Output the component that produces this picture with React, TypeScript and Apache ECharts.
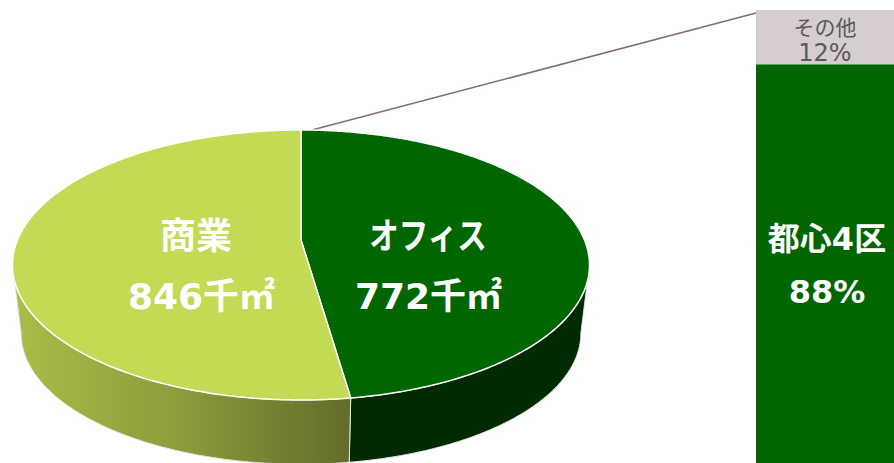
import React, { useEffect, useRef } from "react";
import * as echarts from "echarts";

const pieNames = ["オフィス", "商業"];
const pieValues = [772, 846];
const pieUnit = "千㎡";
const barNames = ["都心4区", "その他"];
const barValues = [88, 12];

const FONT = '"DejaVu Sans", "Noto Sans CJK JP", sans-serif';
const DARK = "#006600";
const LIGHT = "#C2DA54";
const OTHER = "#D6CECE";

const APEX_X = 301;
const APEX_Y = 240;
const PERSP = 50 / 270;
const A = 110 * (1 + PERSP);
const B = 283.5;
const SIDE_SCALE = 0.97;
const SIDE_DROP = 69;
const TANGENT = Math.PI - Math.acos(PERSP);

function rim(theta: number, depth: boolean): number[] {
  const s = Math.sin(theta);
  const c = Math.cos(theta);
  const d = 1 + PERSP * c;
  const scale = depth ? SIDE_SCALE : 1;
  return [
    APEX_X + (scale * B * s) / d,
    APEX_Y + (depth ? SIDE_DROP : 0) - (scale * A * c) / d,
  ];
}

function arc(t0: number, t1: number, depth: boolean): number[][] {
  const out: number[][] = [];
  const n = Math.max(2, Math.ceil(Math.abs(t1 - t0) / 0.01));
  for (let i = 0; i <= n; i++) out.push(rim(t0 + ((t1 - t0) * i) / n, depth));
  return out;
}

const labelPos = [
  { x1: 428, x2: 428.5, y1: 236, y2: 296, nameScale: 0.82 },
  { x1: 196, x2: 201.5, y1: 236, y2: 296, nameScale: 1 },
];

export default function App() {
  const ref = useRef<HTMLDivElement>(null);
  useEffect(() => {
    const chart = echarts.init(ref.current!, undefined, { renderer: "svg" });
    const total = pieValues.reduce((a, b) => a + b, 0);
    const sideMin = TANGENT;
    const sideMax = 2 * Math.PI - TANGENT;
    const sideFill = [
      "#002A00",
      new echarts.graphic.LinearGradient(0, 0, 1, 0, [
        { offset: 0, color: "#ABBC48" },
        { offset: 0.5, color: "#8B9C3C" },
        { offset: 1, color: "#636B2A" },
      ]),
    ];
    chart.setOption({
      animation: false,
      grid: { left: 756, right: 0, top: 10, bottom: 0 },
      xAxis: { type: "category", show: false, data: ["share"] },
      yAxis: { type: "value", show: false, min: 0, max: 100 },
      graphic: [
        {
          type: "line",
          shape: { x1: 312, y1: 130, x2: 756, y2: 13 },
          style: { stroke: "#7F6F6F", lineWidth: 1.5 },
        },
      ],
      series: [
        {
          type: "custom",
          coordinateSystem: "none",
          silent: true,
          clip: false,
          data: pieValues.map((v, i) => ({ name: pieNames[i], value: [v] })),
          renderItem: (params: any, api: any) => {
            const i = params.dataIndex;
            const before = pieValues.slice(0, i).reduce((a, b) => a + b, 0);
            const t0 = (before / total) * 2 * Math.PI;
            const t1 = ((before + api.value(0)) / total) * 2 * Math.PI;
            const s0 = Math.max(t0, sideMin);
            const s1 = Math.min(t1, sideMax);
            const sidePts = [...arc(s0, s1, false), ...arc(s1, s0, true)];
            const topPts = [[APEX_X, APEX_Y], ...arc(t0, t1, false)];
            const lp = labelPos[i];
            const textStyle = {
              fill: "#FFFFFF",
              fontFamily: FONT,
              fontWeight: "bold",
              fontSize: 36,
              align: "center",
              verticalAlign: "middle",
            };
            return {
              type: "group",
              children: [
                {
                  type: "polygon",
                  shape: { points: sidePts },
                  style: { fill: sideFill[i], stroke: "#E4E4E4", lineWidth: 1 },
                },
                {
                  type: "polygon",
                  shape: { points: topPts },
                  style: { fill: i === 0 ? DARK : LIGHT, stroke: "#FFFFFF", lineWidth: 1.5 },
                },
                {
                  type: "text",
                  x: lp.x1,
                  y: lp.y1,
                  scaleX: lp.nameScale,
                  style: { ...textStyle, text: pieNames[i] },
                },
                {
                  type: "text",
                  x: lp.x2,
                  y: lp.y2,
                  style: { ...textStyle, text: `${api.value(0)}${pieUnit}` },
                },
              ],
            };
          },
        },
        {
          type: "bar",
          stack: "share",
          barWidth: "100%",
          silent: true,
          data: [barValues[0]],
          itemStyle: { color: DARK },
          label: {
            show: true,
            position: "inside",
            formatter: () => `${barNames[0]}\n${barValues[0]}%`,
            color: "#FFFFFF",
            fontFamily: FONT,
            fontWeight: "bold",
            fontSize: 32,
            lineHeight: 53,
            offset: [2, 2],
          },
        },
        {
          type: "bar",
          stack: "share",
          barWidth: "100%",
          silent: true,
          data: [barValues[1]],
          itemStyle: { color: OTHER },
          label: {
            show: true,
            position: "inside",
            formatter: () => `{a|${barNames[1]}}\n{b|${barValues[1]}%}`,
            rich: {
              a: { color: "#595959", fontFamily: FONT, fontSize: 21, lineHeight: 25 },
              b: { color: "#595959", fontFamily: FONT, fontSize: 24, lineHeight: 25 },
            },
            offset: [0, 3],
          },
        },
      ],
    });
    return () => chart.dispose();
  }, []);
  return (
    <div
      ref={ref}
      style={{ position: "fixed", left: 0, top: 0, width: 894, height: 463, background: "#fff" }}
    />
  );
}
